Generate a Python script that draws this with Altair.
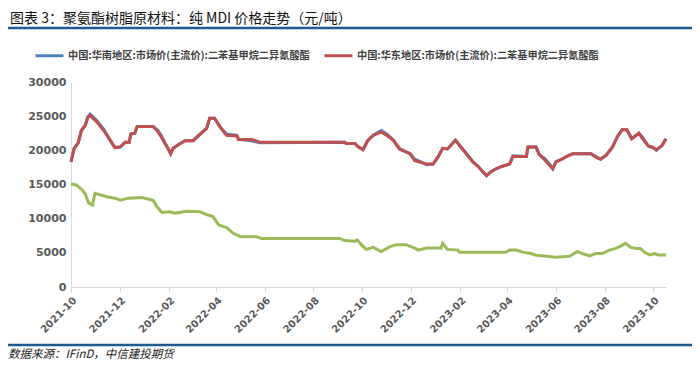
import altair as alt
import pandas as pd

TITLE = "图表 3：聚氨酯树脂原材料：纯 MDI 价格走势（元/吨）"
SOURCE = "数据来源：IFinD，中信建投期货"
S_SOUTH = "中国:华南地区:市场价(主流价):二苯基甲烷二异氰酸酯"
S_EAST = "中国:华东地区:市场价(主流价):二苯基甲烷二异氰酸酯"

# dates shared by the two regional MDI price series
mdi_dates = [
    "2021-10-01", "2021-10-05", "2021-10-10", "2021-10-14", "2021-10-19", "2021-10-22",
    "2021-10-25", "2021-11-02", "2021-11-11", "2021-11-19", "2021-11-25", "2021-12-02",
    "2021-12-08", "2021-12-13", "2021-12-15", "2021-12-20", "2021-12-23", "2022-01-12",
    "2022-01-18", "2022-01-22", "2022-01-27", "2022-01-31", "2022-02-03", "2022-02-06",
    "2022-02-15", "2022-02-21", "2022-03-03", "2022-03-08", "2022-03-14", "2022-03-20",
    "2022-03-24", "2022-03-30", "2022-04-06", "2022-04-14", "2022-04-27", "2022-04-29",
    "2022-05-15", "2022-05-26", "2022-09-09", "2022-09-11", "2022-09-22", "2022-09-26",
    "2022-10-02", "2022-10-08", "2022-10-15", "2022-10-25", "2022-11-02", "2022-11-09",
    "2022-11-17", "2022-11-30", "2022-12-06", "2022-12-21", "2022-12-29", "2023-01-04",
    "2023-01-10", "2023-01-16", "2023-01-20", "2023-01-26", "2023-02-01", "2023-02-08",
    "2023-02-17", "2023-02-23", "2023-03-01", "2023-03-06", "2023-03-12", "2023-03-18",
    "2023-03-24", "2023-04-04", "2023-04-08", "2023-04-25", "2023-04-27", "2023-05-07",
    "2023-05-11", "2023-05-18", "2023-05-24", "2023-05-28", "2023-06-01", "2023-06-10",
    "2023-06-16", "2023-06-22", "2023-07-15", "2023-07-21", "2023-07-27", "2023-08-03",
    "2023-08-11", "2023-08-17", "2023-08-23", "2023-08-29", "2023-09-04", "2023-09-13",
    "2023-09-17", "2023-09-25", "2023-09-30", "2023-10-05", "2023-10-12", "2023-10-17",
]

east_values = [
    18300, 20300, 21100, 22900, 23700, 24800,
    25100, 24200, 22900, 21500, 20400, 20500,
    21200, 21200, 22400, 22500, 23500, 23500,
    22700, 22000, 21000, 20200, 19500, 20300,
    21000, 21400, 21400, 21900, 22600, 23200,
    24700, 24700, 23400, 22200, 22100, 21600,
    21600, 21200, 21200, 21000, 21000, 20500,
    20100, 21400, 22200, 22700, 22100, 21500,
    20200, 19500, 18500, 18000, 18000, 19000,
    20300, 20200, 20700, 21500, 20600, 19600,
    18300, 17700, 16900, 16300, 16900, 17300,
    17600, 18000, 19100, 19100, 20500, 20500,
    19400, 18600, 17800, 17300, 18300, 18800,
    19200, 19500, 19500, 19000, 18700, 19300,
    20500, 22000, 23000, 23000, 21700, 22500,
    21800, 20600, 20500, 20100, 20700, 21700,
]

south_values = [
    18300, 20300, 21100, 22900, 23700, 24900,
    25300, 24400, 23100, 21500, 20400, 20500,
    21200, 21200, 22400, 22500, 23500, 23500,
    22900, 22200, 21000, 20200, 19500, 20300,
    21000, 21400, 21400, 22000, 22600, 23200,
    24700, 24700, 23400, 22400, 22200, 21600,
    21400, 21100, 21200, 21000, 21000, 20500,
    20100, 21400, 22200, 22900, 22300, 21500,
    20200, 19500, 18700, 17900, 18000, 19000,
    20300, 20200, 20700, 21500, 20600, 19600,
    18300, 17700, 16900, 16300, 16900, 17300,
    17600, 18000, 19200, 19100, 20500, 20500,
    19400, 18800, 18000, 17300, 18300, 18800,
    19200, 19500, 19500, 19100, 18700, 19300,
    20500, 22000, 23000, 23000, 21700, 22500,
    22000, 20600, 20400, 20000, 20700, 21700,
]

# third (unlabelled) series
g_dates = [
    "2021-10-01", "2021-10-08", "2021-10-15", "2021-10-19", "2021-10-23", "2021-10-28",
    "2021-10-31", "2021-11-15", "2021-11-25", "2021-12-02", "2021-12-12", "2021-12-29",
    "2022-01-12", "2022-01-17", "2022-01-23", "2022-02-02", "2022-02-08", "2022-02-23",
    "2022-03-12", "2022-03-20", "2022-03-28", "2022-04-04", "2022-04-14", "2022-04-22",
    "2022-05-01", "2022-05-22", "2022-05-28", "2022-09-03", "2022-09-09", "2022-09-22",
    "2022-09-25", "2022-09-30", "2022-10-06", "2022-10-15", "2022-10-25", "2022-11-05",
    "2022-11-13", "2022-11-25", "2022-12-06", "2022-12-10", "2022-12-21", "2023-01-08",
    "2023-01-10", "2023-01-16", "2023-01-29", "2023-01-31", "2023-03-30", "2023-04-04",
    "2023-04-12", "2023-04-20", "2023-05-01", "2023-05-07", "2023-05-24", "2023-06-01",
    "2023-06-18", "2023-06-28", "2023-07-04", "2023-07-13", "2023-07-21", "2023-07-29",
    "2023-08-07", "2023-08-15", "2023-08-23", "2023-08-27", "2023-09-03", "2023-09-09",
    "2023-09-15", "2023-09-21", "2023-09-27", "2023-10-03", "2023-10-07", "2023-10-17",
]
g_values = [
    15100, 14900, 14200, 13600, 12300, 12000,
    13700, 13200, 13000, 12700, 13000, 13100,
    12700, 11700, 10900, 11000, 10800, 11100,
    11000, 10600, 10300, 9100, 8700, 7900,
    7400, 7350, 7100, 7100, 6800, 6700,
    6900, 6200, 5500, 5800, 5200, 5900,
    6200, 6200, 5700, 5400, 5700, 5700,
    6400, 5500, 5400, 5100, 5100, 5400,
    5400, 5100, 4900, 4650, 4450, 4350,
    4500, 5200, 4900, 4550, 4900, 4900,
    5400, 5650, 6100, 6400, 5800, 5650,
    5650, 5000, 4700, 4900, 4700, 4700,
]

tick_months = [(2021, 10), (2021, 12), (2022, 2), (2022, 4), (2022, 6), (2022, 8),
               (2022, 10), (2022, 12), (2023, 2), (2023, 4), (2023, 6), (2023, 8), (2023, 10)]
y_ticks = [0, 5000, 10000, 15000, 20000, 25000, 30000]

BLUE = "#4F81BD"
RED = "#C0504D"
GREEN = "#9BBB59"
NAVY = "#1F5A8C"
AXIS_GRAY = "#D9D9D9"
LABEL_GRAY = "#595959"

df_south = pd.DataFrame({"date": pd.to_datetime(mdi_dates), "value": south_values, "series": S_SOUTH})
df_east = pd.DataFrame({"date": pd.to_datetime(mdi_dates), "value": east_values, "series": S_EAST})
df_green = pd.DataFrame({"date": pd.to_datetime(g_dates), "value": g_values})

x_enc = alt.X(
    "date:T",
    scale=alt.Scale(domain=[alt.DateTime(year=2021, month=10, date=1),
                            alt.DateTime(year=2023, month=10, date=17)]),
    axis=alt.Axis(
        format="%Y-%m",
        values=[alt.DateTime(year=y, month=m, date=1) for y, m in tick_months],
        labelAngle=-45, grid=False, title=None,
        tickSize=5, tickColor=AXIS_GRAY, domainColor=AXIS_GRAY,
        labelColor=LABEL_GRAY, labelFont="DejaVu Sans", labelFontWeight="bold",
        labelFontSize=10, labelPadding=3,
    ),
)
y_enc = alt.Y(
    "value:Q",
    scale=alt.Scale(domain=[0, 30000]),
    axis=alt.Axis(
        values=y_ticks, format="d", grid=False, title=None, ticks=False,
        domainColor=AXIS_GRAY, labelColor=LABEL_GRAY, labelFont="DejaVu Sans",
        labelFontWeight="bold", labelFontSize=11, labelPadding=5,
    ),
)
color_enc = alt.Color(
    "series:N",
    scale=alt.Scale(domain=[S_SOUTH, S_EAST], range=[BLUE, RED]),
    legend=alt.Legend(
        title=None, orient="none", legendX=-37, legendY=-42, direction="horizontal",
        symbolType="stroke", symbolSize=784, symbolStrokeWidth=3,
        labelFont="Noto Sans CJK SC", labelFontWeight="bold", labelFontSize=10.2,
        labelColor="#404040", labelLimit=400, columnPadding=8, labelOffset=3,
    ),
)

south_line = alt.Chart(df_south).mark_line(strokeWidth=3).encode(x=x_enc, y=y_enc, color=color_enc)
east_line = alt.Chart(df_east).mark_line(strokeWidth=3).encode(x=x_enc, y=y_enc, color=color_enc)
green_line = alt.Chart(df_green).mark_line(strokeWidth=3, color=GREEN).encode(x=x_enc, y=y_enc)

one = pd.DataFrame({"t": [TITLE]})
src = pd.DataFrame({"t": [SOURCE]})

title_text = alt.Chart(one).mark_text(
    align="left", baseline="middle", fontSize=14, font="Noto Sans CJK SC", color="#111111"
).encode(text="t:N", x=alt.value(-61), y=alt.value(-63))

top_rule = alt.Chart(one).mark_rule(color=NAVY, strokeWidth=2.5).encode(
    x=alt.value(-63), x2=alt.value(621), y=alt.value(-54))
bottom_rule = alt.Chart(one).mark_rule(color=NAVY, strokeWidth=2.5).encode(
    x=alt.value(-63), x2=alt.value(621), y=alt.value(263))

source_text = alt.Chart(src).mark_text(
    align="left", baseline="middle", fontSize=11.5, font="Noto Sans CJK SC",
    fontStyle="italic", color="#222222"
).encode(text="t:N", x=alt.value(-63), y=alt.value(273))

chart = alt.layer(
    south_line, east_line, green_line, title_text, top_rule, bottom_rule, source_text
).properties(
    width=595, height=205,
    autosize=alt.AutoSizeParams(type="none"),
    padding={"left": 63, "top": 74, "right": 26, "bottom": 85},
).configure_view(stroke=None)

chart.save("out.html", embed_options={"renderer": "svg", "actions": False})
